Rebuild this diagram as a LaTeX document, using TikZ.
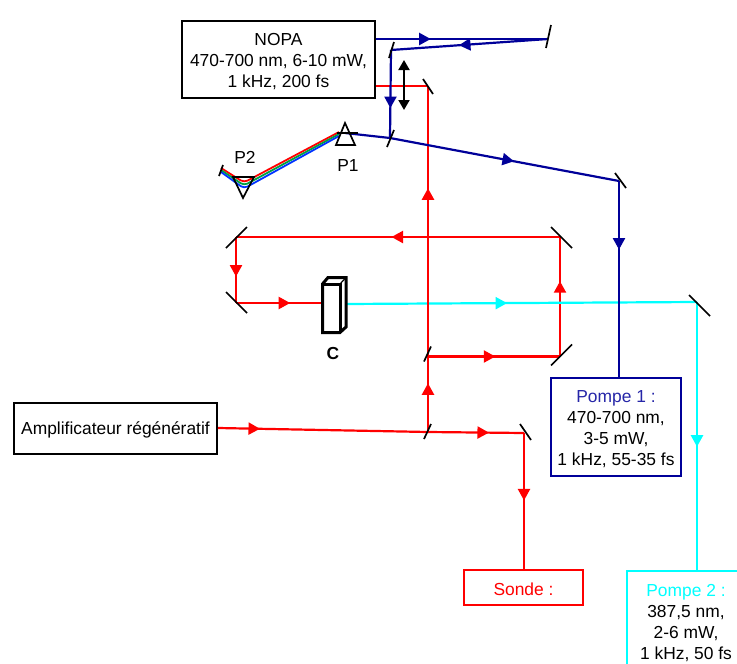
\documentclass[tikz,border=0pt]{standalone}
\usepackage{fontspec}
\setmainfont{Liberation Sans}
\usetikzlibrary{arrows.meta,decorations.markings}
\definecolor{cred}{HTML}{FF0000}
\definecolor{cnavy}{HTML}{000099}
\definecolor{ccyan}{HTML}{00FFFF}
\definecolor{cgreen}{HTML}{00A040}
\definecolor{cblue}{HTML}{0033FF}
\newcommand{\lift}{\rule{0pt}{17pt}}

\begin{document}
\begin{tikzpicture}[x=1pt,y=-1pt,font=\fontsize{17.4}{21}\selectfont,>=Latex]
  \tikzstyle{box}=[draw,line width=2pt,align=center,inner sep=0pt,fill=white]
  \tikzstyle{mirror}=[draw=black,line width=1.7pt]
  \tikzstyle{beam}=[line width=2.2pt]
  \tikzstyle{ray}=[line width=1.8pt,rounded corners=4pt]
  \tikzstyle{tip}=[postaction={decorate,decoration={markings,mark=at position #1 with {\arrow{Triangle[length=11.5pt,width=12pt]}}}}]
  \useasboundingbox (0,0) rectangle (737,664);

  % mirrors and prisms
  \coordinate (mFar) at (548,39);
  \coordinate (mBack) at (391,50);
  \coordinate (mSplit) at (390,138);
  \coordinate (mPump) at (619,181);
  \coordinate (mRed) at (428,86);
  \coordinate (mMid) at (428,356.5);
  \coordinate (mLow) at (428,432);
  \coordinate (mSonde) at (524,433);
  \coordinate (mBR) at (560,356.5);
  \coordinate (mTR) at (560,237);
  \coordinate (mTL) at (236,237);
  \coordinate (mBL) at (236,303);
  \coordinate (mCyan) at (697,302);
  \coordinate (mEnd) at (221,170);
  \coordinate (cOut) at (346,304);
  \coordinate (P1) at (345,133);

  % boxes
  \node[box,minimum width=193pt,minimum height=77pt] (nopa) at (278.5,59.5) {\lift NOPA\\470-700 nm, 6-10 mW,\\1 kHz, 200 fs};
  \node[box,minimum width=203pt,minimum height=51pt] (amp) at (115.5,428) {\lift Amplificateur régénératif};
  \node[box,draw=cnavy,minimum width=130pt,minimum height=98pt] (pompeA) at (616,427) {\lift\textcolor{cnavy!85!white}{Pompe 1 :}\\470-700 nm,\\3-5 mW,\\1 kHz, 55-35 fs};
  \node[box,draw=cred,minimum width=119pt,minimum height=35pt,text=cred] (sonde) at (523.5,587.5) {\lift Sonde :};
  \node[box,draw=ccyan,minimum width=118pt,minimum height=104pt,anchor=north] (pompeB) at (686,570) {\textcolor{ccyan}{Pompe 2 :}\\387,5 nm,\\2-6 mW,\\1 kHz, 50 fs};
  \node (lP1) at (348,166) {P1};
  \node (lP2) at (245,157) {P2};
  \node[font=\fontsize{17.4}{21}\selectfont\bfseries] (lC) at (333,354) {C};

  % red loop
  \draw[beam,cred,tip=.51] (mMid) -- (mBR);
  \draw[beam,cred,tip=.63] (mBR) -- (mTR);
  \draw[beam,cred,tip=.52] (mTR) -- (mTL);
  \draw[beam,cred,tip=.6] (mTL) -- (mBL);
  % cyan pump
  \draw[beam,ccyan,tip=.459] (cOut) -- (mCyan);
  \draw[beam,ccyan,tip=.54] (mCyan) -- (mCyan |- pompeB.north);
  % red probe
  \draw[beam,cred,tip=.2] (amp.east) -- (mLow);
  \draw[beam,cred,tip=.635] (mLow) -- (mSonde);
  \draw[beam,cred,tip=.496] (mSonde) -- (mSonde |- sonde.north);
  \draw[beam,cred,tip=.645] (mLow) -- (mMid);
  \draw[beam,cred,tip=.622] (mMid) -- (mRed);
  \draw[beam,cred] (nopa.east |- mRed) -- (mRed);
  % blue beams
  \draw[beam,cnavy,tip=.318] (nopa.east |- mFar) -- (mFar);
  \draw[beam,cnavy,tip=.567] (mFar) -- (mBack);
  \draw[beam,cnavy,tip=.66] (mBack) -- (mSplit);
  \draw[beam,cnavy,tip=.616] (P1) -- (mSplit) -- (mPump);
  \draw[beam,cnavy,tip=.35] (mPump) -- (mPump |- pompeA.north);
  % dispersed beams between prisms
  \draw[ray,cred] (339,132) -- (244,182.5) -- (221,168);
  \draw[ray,cgreen] (339,134) -- (244,185.5) -- (221,170);
  \draw[ray,cblue] (339,136) -- (244,188.5) -- (221,172);

  % crystal
  \draw[beam,cred,tip=.63] (mBL) -- (322,303);
  \draw[line width=3pt,fill=white,line join=miter] (322.5,284) -- (328,277.5) -- (346,277.5) -- (346,327) -- (340,332.5) -- (322.5,332.5) -- cycle;
  \draw[line width=3pt] (322.5,284) -- (340,284) -- (340,332.5);
  \draw[line width=1.2pt] (340,284) -- (346,277.5);

  % prisms
  \draw[line width=1.7pt,line join=miter] (345,123) -- (336,145) -- (355,145) -- cycle;
  \draw[line width=1.7pt,line join=miter] (233,177) -- (254,177) -- (243,198) -- cycle;
  \draw[line width=1.7pt] (337,133) -- (358,133);

  % mirrors
  \draw[mirror] (mFar) ++(3,-14) -- ++(-5,23);
  \draw[mirror] (mBack) ++(3,-8) -- ++(-5,16);
  \draw[mirror] (mSplit) ++(4,-8) -- ++(-7,17);
  \draw[mirror] (mPump) ++(-4,-8) -- ++(11,15);
  \draw[mirror] (mRed) ++(-5,-7) -- ++(10,15);
  \draw[mirror] (mMid) ++(3,-10) -- ++(-7,15);
  \draw[mirror] (mLow) ++(3,-8) -- ++(-7,15);
  \draw[mirror] (mSonde) ++(-4,-9) -- ++(11,16);
  \draw[mirror] (mBR) ++(12,-12) -- ++(-21,21);
  \draw[mirror] (mTR) ++(-9,-10) -- ++(21,21);
  \draw[mirror] (mTL) ++(11,-10) -- ++(-21,21);
  \draw[mirror] (mBL) ++(-10,-11) -- ++(21,21);
  \draw[mirror] (mCyan) ++(-8,-7) -- ++(21,21);
  \draw[mirror] (mEnd) ++(2,-5) -- ++(-4,11);

  % translation stage
  \draw[line width=2pt,{Triangle[length=10pt,width=11pt]}-{Triangle[length=10pt,width=11pt]}] (404,60) -- (404,110);
\end{tikzpicture}
\end{document}
